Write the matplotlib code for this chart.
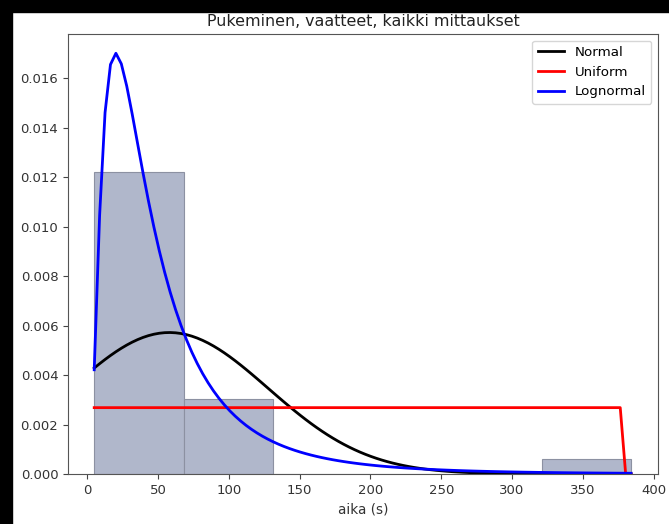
import numpy as np
import matplotlib
matplotlib.use("Agg")
import matplotlib.pyplot as plt
from matplotlib.patches import Rectangle

# Histogram (density)
bin_edges = [5.0, 68.2, 131.4, 194.6, 257.8, 321.0, 384.0]
bin_density = [0.01221, 0.00305, 0.0, 0.0, 0.0, 0.00061]

# Fitted distribution parameters (estimated from the curves)
x_min, x_max = 5.0, 384.0
n_points = 100
normal_mean, normal_sd = 58.0, 69.7
uniform_loc, uniform_scale = 5.0, 372.5
lognorm_mu, lognorm_sigma = 3.685, 0.83

title = "Pukeminen, vaatteet, kaikki mittaukset"
xlabel = "aika (s)"
legend_labels = ["Normal", "Uniform", "Lognormal"]

x = np.linspace(x_min, x_max, n_points)
normal_pdf = np.exp(-(x - normal_mean) ** 2 / (2 * normal_sd ** 2)) / (normal_sd * np.sqrt(2 * np.pi))
uniform_pdf = np.where((x >= uniform_loc) & (x <= uniform_loc + uniform_scale), 1.0 / uniform_scale, 0.0)
lognorm_pdf = np.exp(-(np.log(x) - lognorm_mu) ** 2 / (2 * lognorm_sigma ** 2)) / (x * lognorm_sigma * np.sqrt(2 * np.pi))

fig = plt.figure(figsize=(6.69, 5.24), dpi=100)
ax = fig.add_axes([68 / 669, 1 - 474 / 524, (658 - 68) / 669, (474 - 34) / 524])

lefts = bin_edges[:-1]
widths = np.diff(bin_edges)
ax.bar(lefts, bin_density, width=widths, align="edge", color="#b0b7cb",
       edgecolor="#8c91a2", linewidth=0.8)

ax.plot(x, normal_pdf, color="black", lw=2, label=legend_labels[0])
ax.plot(x, uniform_pdf, color="red", lw=2, label=legend_labels[1])
ax.plot(x, lognorm_pdf, color="blue", lw=2, label=legend_labels[2])

ax.set_xlim(-13.5, 403)
ax.set_ylim(0, 0.0178)
ax.set_xticks([0, 50, 100, 150, 200, 250, 300, 350, 400])
ax.set_yticks(np.arange(0, 0.0161, 0.002))
ax.yaxis.set_major_formatter(matplotlib.ticker.FormatStrFormatter("%.3f"))
ax.tick_params(labelsize=9.5, colors="#444444", labelcolor="#333333")
for s in ax.spines.values():
    s.set_color("#555555")
ax.set_title(title, fontsize=11.4, color="#222222")
ax.set_xlabel(xlabel, fontsize=9.8, color="#333333")
leg = ax.legend(loc="upper right", fontsize=9.6)

fig.add_artist(Rectangle((0, 1 - 12 / 524), 1, 12 / 524, transform=fig.transFigure, color="black"))
fig.add_artist(Rectangle((0, 0), 12 / 669, 1, transform=fig.transFigure, color="black"))

fig.savefig("out.png", dpi=100)
